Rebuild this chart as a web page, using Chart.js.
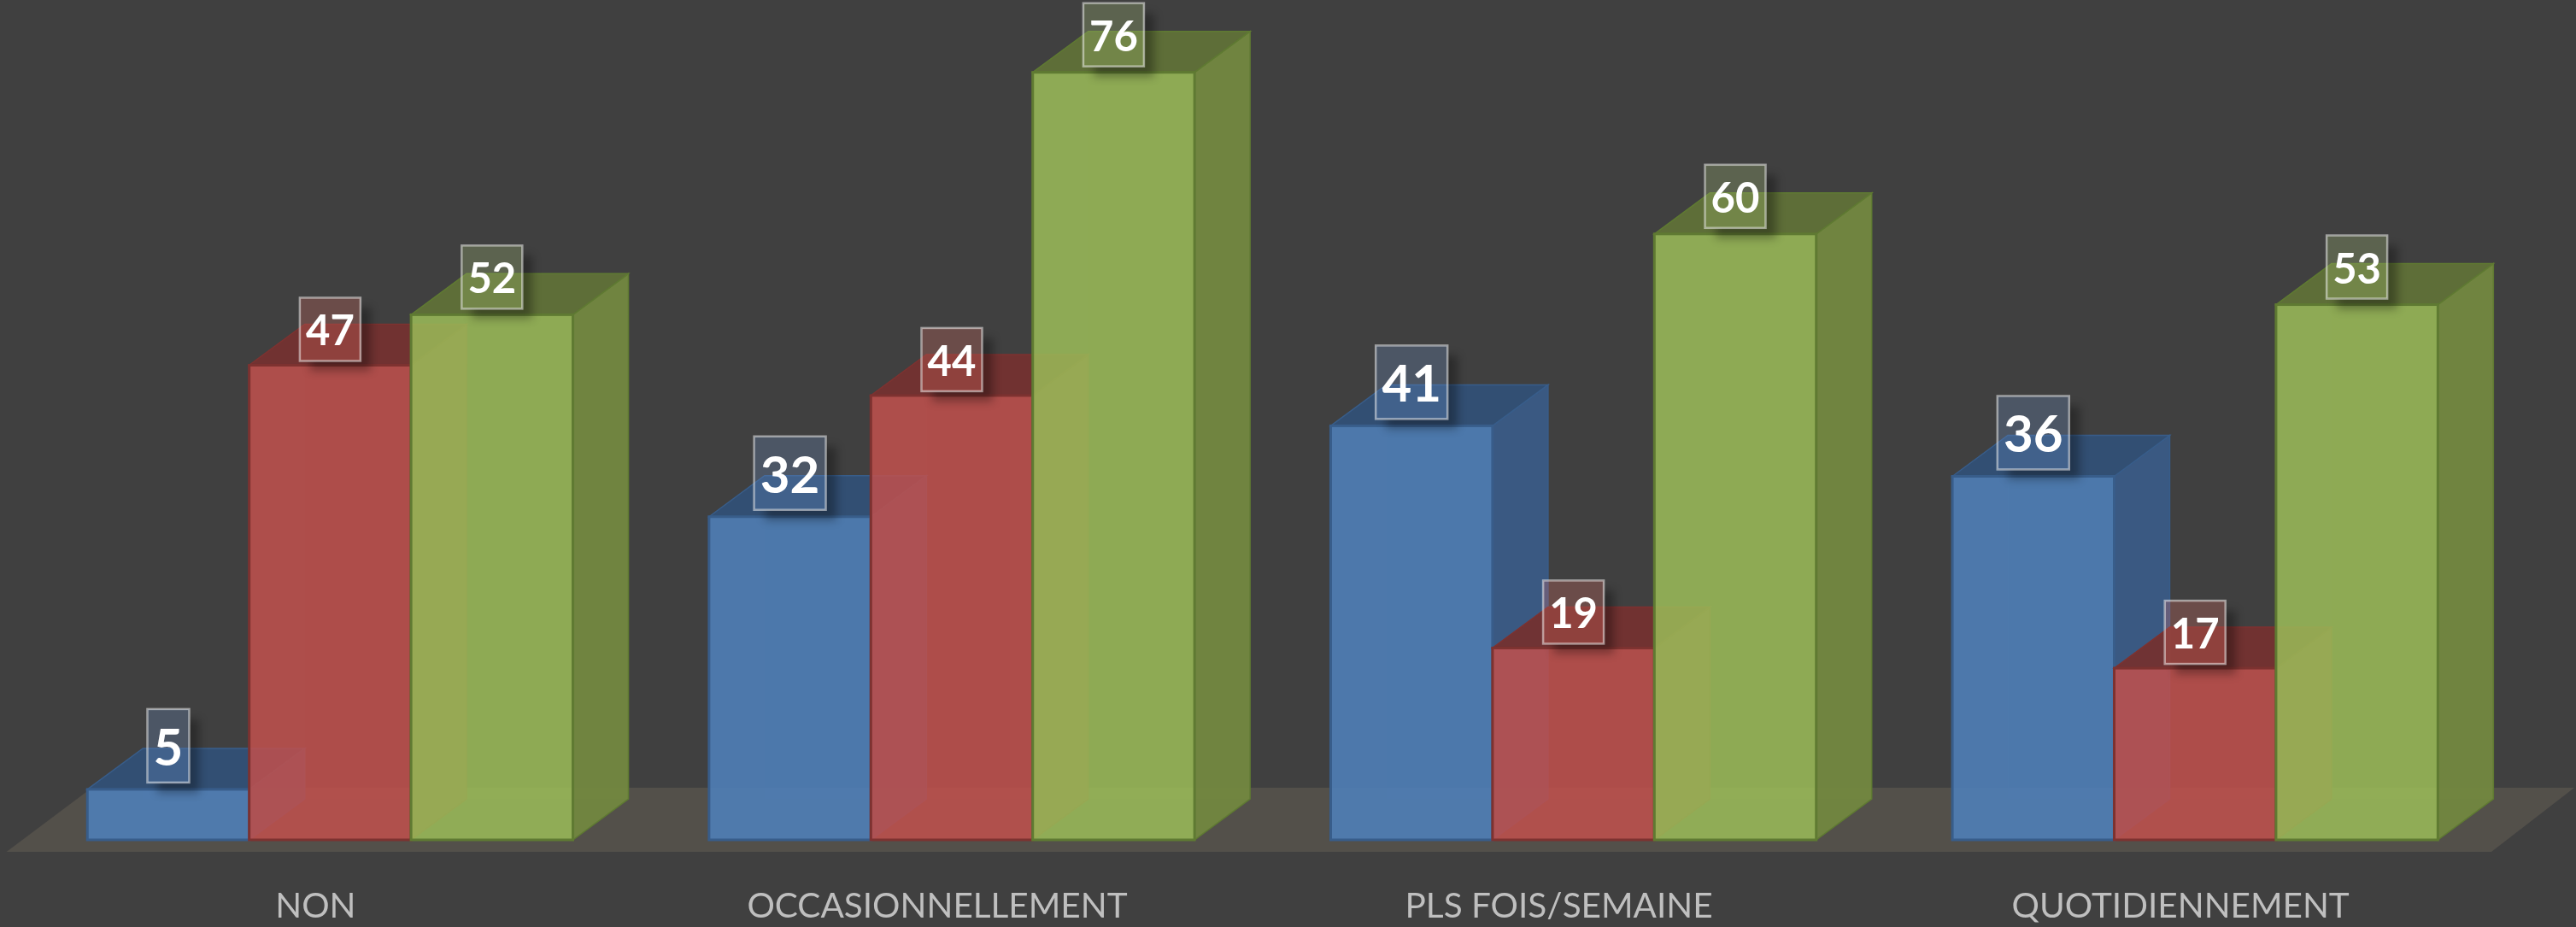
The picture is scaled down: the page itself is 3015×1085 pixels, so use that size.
<!DOCTYPE html>
<html>
<head>
<meta charset="utf-8">
<script src="https://cdn.jsdelivr.net/npm/chart.js@4/dist/chart.umd.min.js"></script>
<style>
  html, body { margin: 0; padding: 0; background: #404040; }
  canvas { display: block; }
</style>
</head>
<body>
<canvas id="chart" width="3015" height="1085"></canvas>
<script>
const categories = ['NON', 'OCCASIONNELLEMENT', 'PLS FOIS/SEMAINE', 'QUOTIDIENNEMENT'];
const blueValues = [5, 32, 41, 36];
const redValues = [47, 44, 19, 17];
const greenValues = [52, 76, 60, 53];

// front, edge, top face, side face, label box
const palette = [
  { front: 'rgba(79,129,189,0.86)', edge: '#385d8a', top: 'rgba(50,80,118,0.95)', side: 'rgba(58,92,136,0.9)', back: 'rgba(79,129,189,0.06)', tag: 'rgba(110,150,210,0.25)', fontSize: 60, boxH: 86, lift: 51, drop: 20 },
  { front: 'rgba(192,80,77,0.86)', edge: '#7d3230', top: 'rgba(116,50,48,0.95)', side: 'rgba(130,56,54,0.9)', back: 'rgba(192,80,77,0.06)', tag: 'rgba(235,110,100,0.25)', fontSize: 49, boxH: 74, lift: 42, drop: 18 },
  { front: 'rgba(155,187,89,0.86)', edge: '#5f7a32', top: 'rgba(95,112,56,0.97)', side: 'rgba(114,134,64,0.97)', back: 'rgba(155,187,89,0.06)', tag: 'rgba(175,205,125,0.25)', fontSize: 49, boxH: 74, lift: 44, drop: 18 }
];

const depthX = 65;
const depthY = 48;

function poly(ctx, pts) {
  ctx.beginPath();
  pts.forEach((p, i) => i ? ctx.lineTo(p[0], p[1]) : ctx.moveTo(p[0], p[1]));
  ctx.closePath();
}

function drawFaces(ctx, meta, c) {
  ctx.save();
  ctx.lineWidth = 1.5;
  ctx.strokeStyle = c.edge;
  meta.data.forEach(bar => {
    const l = bar.x - bar.width / 2;
    const r = bar.x + bar.width / 2;
    const t = bar.y;
    const b = bar.base;
    ctx.fillStyle = c.back;
    poly(ctx, [[l + depthX, t - depthY], [r + depthX, t - depthY], [r + depthX, b - depthY], [l + depthX, b - depthY]]);
    ctx.fill();
    ctx.fillStyle = c.side;
    poly(ctx, [[r, t], [r + depthX, t - depthY], [r + depthX, b - depthY], [r, b]]);
    ctx.fill();
    ctx.stroke();
    ctx.fillStyle = c.top;
    poly(ctx, [[l, t], [l + depthX, t - depthY], [r + depthX, t - depthY], [r, t]]);
    ctx.fill();
    ctx.stroke();
  });
  ctx.restore();
}

function strokeFronts(ctx, meta, c) {
  ctx.save();
  ctx.lineWidth = 3;
  ctx.strokeStyle = c.edge;
  meta.data.forEach(bar => {
    ctx.strokeRect(bar.x - bar.width / 2, bar.y, bar.width, bar.base - bar.y);
  });
  ctx.restore();
}

// fake 3D: floor, then blue -> green so that the later series sits on top
const box3d = {
  id: 'box3d',
  beforeDatasetsDraw(chart) {
    const { ctx, chartArea: a } = chart;
    const base = a.bottom;
    ctx.save();
    ctx.fillStyle = '#53504a';
    poly(ctx, [
      [a.left - 15, base + 14],
      [a.left - 15 + 100, base - 61],
      [a.right + 80, base - 61],
      [a.right - 17, base + 14]
    ]);
    ctx.fill();
    ctx.restore();
    chart.data.datasets.forEach((ds, i) => {
      const meta = chart.getDatasetMeta(i);
      drawFaces(ctx, meta, palette[i]);
      meta.controller.draw();
      strokeFronts(ctx, meta, palette[i]);
    });
  },
  // already drawn above
  beforeDatasetDraw() {
    return false;
  },
  afterDatasetsDraw(chart) {
    const { ctx } = chart;
    chart.data.datasets.forEach((ds, i) => {
      const c = palette[i];
      chart.getDatasetMeta(i).data.forEach((bar, j) => {
        const text = String(ds.data[j]);
        ctx.font = 'bold ' + c.fontSize + 'px Lato';
        const boxW = Math.round(ctx.measureText(text).width + 14);
        const x = bar.x - boxW / 2;
        const y = bar.y - c.lift - c.boxH / 2;
        // shadow only outside the box
        ctx.save();
        ctx.beginPath();
        ctx.rect(0, 0, chart.width, chart.height);
        ctx.rect(x, y, boxW, c.boxH);
        ctx.clip('evenodd');
        ctx.shadowColor = 'rgba(0,0,0,0.32)';
        ctx.shadowBlur = 10;
        ctx.shadowOffsetX = 12;
        ctx.shadowOffsetY = 12;
        ctx.fillStyle = '#000';
        ctx.fillRect(x, y, boxW, c.boxH);
        ctx.restore();

        ctx.save();
        ctx.fillStyle = c.tag;
        ctx.fillRect(x, y, boxW, c.boxH);
        ctx.strokeStyle = 'rgba(255,255,255,0.5)';
        ctx.lineWidth = 2.5;
        ctx.strokeRect(x, y, boxW, c.boxH);
        ctx.fillStyle = '#fff';
        ctx.textAlign = 'center';
        ctx.textBaseline = 'alphabetic';
        ctx.fillText(text, bar.x, y + c.boxH - c.drop);
        ctx.restore();
      });
    });
  }
};

const seriesValues = [blueValues, redValues, greenValues];

new Chart(document.getElementById('chart').getContext('2d'), {
  type: 'bar',
  data: {
    labels: categories,
    datasets: seriesValues.map((values, i) => ({
      data: values,
      backgroundColor: palette[i].front,
      borderWidth: 0
    }))
  },
  options: {
    responsive: false,
    animation: false,
    layout: { padding: { left: 22.6, right: 82, top: 37.4, bottom: 0 } },
    plugins: { legend: { display: false }, tooltip: { enabled: false } },
    datasets: { bar: { barPercentage: 1, categoryPercentage: 0.781 } },
    scales: {
      y: { display: false, min: 0, max: 80 },
      x: {
        grid: { display: false, drawTicks: false },
        border: { display: false },
        ticks: {
          color: '#bfbfbf',
          font: { family: 'Lato', size: 40.5 },
          padding: 54,
          labelOffset: -17,
          maxRotation: 0,
          autoSkip: false
        },
        afterFit(scale) { scale.height = 102; }
      }
    }
  },
  plugins: [box3d]
});
</script>
</body>
</html>
